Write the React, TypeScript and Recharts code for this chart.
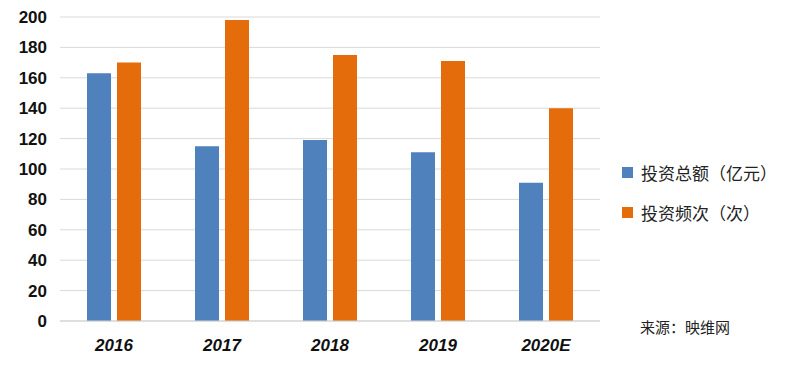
import { BarChart, Bar, XAxis, YAxis, CartesianGrid } from 'recharts';

const years = ['2016', '2017', '2018', '2019', '2020E'];
const totalAmount = [163, 115, 119, 111, 91];
const frequency = [170, 198, 175, 171, 140];
const yTicks = [0, 20, 40, 60, 80, 100, 120, 140, 160, 180, 200];

const data = years.map((year, i) => ({
  year,
  amount: totalAmount[i],
  count: frequency[i],
}));

const BLUE = '#4f81bd';
const ORANGE = '#e46c0a';
const CJK = '"Noto Sans CJK SC", "Noto Sans", sans-serif';

const legendItems = [
  { color: BLUE, label: '投资总额（亿元）' },
  { color: ORANGE, label: '投资频次（次）' },
];

export default function App() {
  return (
    <div style={{ position: 'fixed', left: 0, top: 0, width: 800, height: 366, background: '#fff' }}>
      <BarChart
        width={800}
        height={366}
        data={data}
        margin={{ top: 17, right: 200, left: 0, bottom: 0 }}
        barCategoryGap="25%"
        barGap={6}
      >
        <CartesianGrid vertical={false} stroke="#d9d9d9" />
        <XAxis
          dataKey="year"
          height={45}
          tickLine={false}
          axisLine={{ stroke: '#d0d0d0' }}
          tickMargin={12}
          tick={{ fill: '#111', fontSize: 17, fontWeight: 700, fontStyle: 'italic', fontFamily: 'Liberation Sans, Arial, sans-serif' }}
        />
        <YAxis
          width={60}
          domain={[0, 200]}
          ticks={yTicks}
          interval={0}
          tickLine={false}
          axisLine={false}
          tickMargin={7}
          tick={{ fill: '#111', fontSize: 17, fontWeight: 700, fontFamily: 'Liberation Sans, Arial, sans-serif' }}
        />
        <Bar dataKey="amount" name="投资总额（亿元）" fill={BLUE} isAnimationActive={false} />
        <Bar dataKey="count" name="投资频次（次）" fill={ORANGE} isAnimationActive={false} />
      </BarChart>
      {/* legend drawn outside the chart so it does not shrink the plot area */}
      <div style={{ position: 'absolute', left: 622, top: 152, fontFamily: CJK, fontSize: 17, color: '#222' }}>
        {legendItems.map((it) => (
          <div key={it.label} style={{ display: 'flex', alignItems: 'center', height: 40 }}>
            <span style={{ width: 11, height: 11, background: it.color, marginRight: 8, display: 'inline-block' }} />
            <span>{it.label}</span>
          </div>
        ))}
      </div>
      <div style={{ position: 'absolute', left: 640, top: 316, fontFamily: CJK, fontSize: 15, color: '#222' }}>
        来源：映维网
      </div>
    </div>
  );
}
